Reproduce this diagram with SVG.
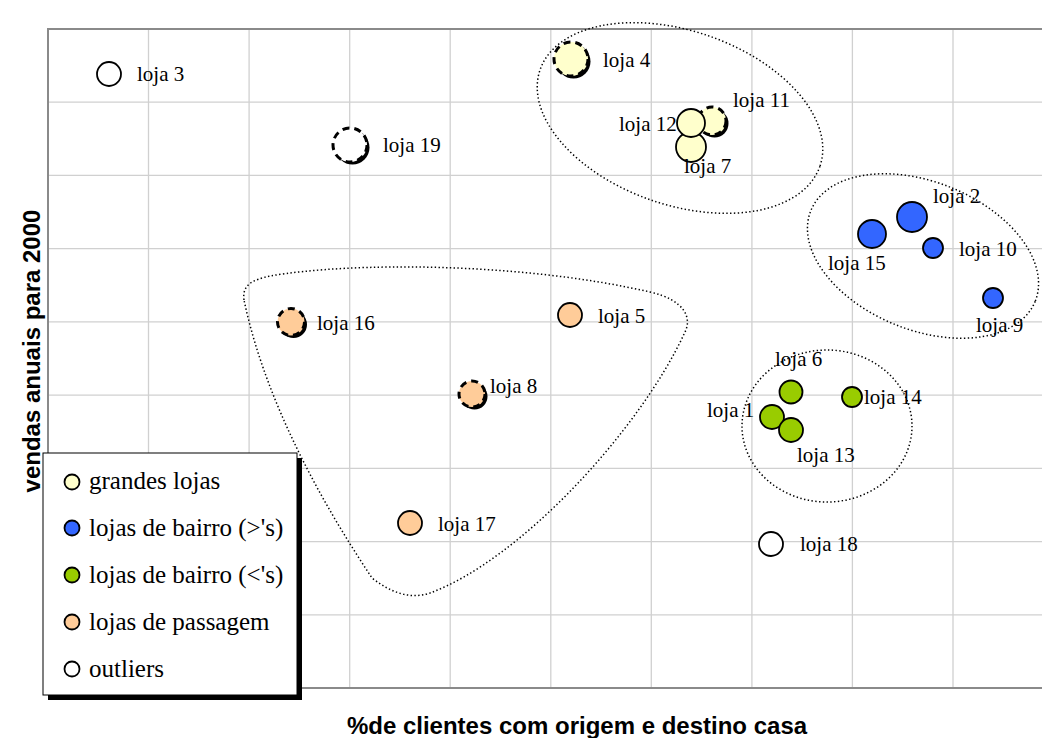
<svg xmlns="http://www.w3.org/2000/svg" width="1042" height="738" viewBox="0 0 1042 738">
  <style>
    .grid line { stroke: #d0d0d0; stroke-width: 1.3; }
    .frame { stroke: #8a8a8a; stroke-width: 2; fill: none; }
    .cluster { fill: none; stroke: #000; stroke-width: 1.5; stroke-dasharray: 1.4 2.4; }
    .pt { stroke: #000; stroke-width: 1.8; }
    .dash { stroke: #000; stroke-width: 3; stroke-dasharray: 7 5; }
    .shadow { fill: #000; }
    .big { fill: #ffffcc; }
    .nb-big { fill: #3366ff; }
    .nb-small { fill: #99cc00; }
    .pass { fill: #ffcc99; }
    .out { fill: #ffffff; }
    .lbl { font-family: "Liberation Serif", "Times New Roman", serif; font-size: 21px; fill: #000; }
    .leg { font-family: "Liberation Serif", "Times New Roman", serif; font-size: 25px; fill: #000; }
    .axis { font-family: "Liberation Sans", Arial, sans-serif; font-size: 24px; font-weight: bold; fill: #000; }
  </style>

  <rect width="1042" height="738" fill="#ffffff"/>

  <!-- plot grid -->
  <g class="grid">
    <line x1="148.5" y1="29" x2="148.5" y2="688"/>
    <line x1="249.1" y1="29" x2="249.1" y2="688"/>
    <line x1="349.7" y1="29" x2="349.7" y2="688"/>
    <line x1="450.2" y1="29" x2="450.2" y2="688"/>
    <line x1="550.8" y1="29" x2="550.8" y2="688"/>
    <line x1="651.3" y1="29" x2="651.3" y2="688"/>
    <line x1="751.9" y1="29" x2="751.9" y2="688"/>
    <line x1="852.4" y1="29" x2="852.4" y2="688"/>
    <line x1="953" y1="29" x2="953" y2="688"/>
    <line x1="48" y1="102.2" x2="1042" y2="102.2"/>
    <line x1="48" y1="175.4" x2="1042" y2="175.4"/>
    <line x1="48" y1="248.7" x2="1042" y2="248.7"/>
    <line x1="48" y1="321.9" x2="1042" y2="321.9"/>
    <line x1="48" y1="395.1" x2="1042" y2="395.1"/>
    <line x1="48" y1="468.3" x2="1042" y2="468.3"/>
    <line x1="48" y1="541.6" x2="1042" y2="541.6"/>
    <line x1="48" y1="614.8" x2="1042" y2="614.8"/>
  </g>
  <path class="frame" d="M1042,29 H48 V688 H1042"/>

  <!-- cluster outlines -->
  <g id="clusters">
    <ellipse class="cluster" cx="680" cy="118" rx="148" ry="87" transform="rotate(19 680 118)"/>
    <ellipse class="cluster" cx="923" cy="256" rx="121" ry="74" transform="rotate(22 923 256)"/>
    <ellipse class="cluster" cx="827" cy="426" rx="85" ry="76"/>
    <path class="cluster" d="M244,300 C242,285 252,280 270,276 C350,262 520,262 650,292 C685,300 692,318 685,332 C640,430 520,560 430,593 C410,600 390,592 372,578 C320,500 265,400 244,300 Z"/>
  </g>

  <!-- outliers -->
  <g id="loja-3">
    <circle class="pt out" cx="109" cy="74" r="12"/>
    <text class="lbl" x="137" y="81">loja 3</text>
  </g>
  <g id="loja-19">
    <circle class="shadow" cx="352.5" cy="147.5" r="17"/>
    <circle class="dash out" cx="350" cy="145" r="17"/>
    <text class="lbl" x="383" y="152">loja 19</text>
  </g>
  <g id="loja-18">
    <circle class="pt out" cx="771" cy="544" r="12"/>
    <text class="lbl" x="800" y="551">loja 18</text>
  </g>

  <!-- large stores -->
  <g id="loja-4">
    <circle class="shadow" cx="573.5" cy="61.5" r="17"/>
    <circle class="dash big" cx="571" cy="59" r="17"/>
    <text class="lbl" x="603" y="67">loja 4</text>
  </g>
  <g id="loja-7">
    <circle class="pt big" cx="691" cy="147" r="15"/>
    <text class="lbl" x="684" y="173">loja 7</text>
  </g>
  <g id="loja-11">
    <circle class="shadow" cx="714.5" cy="123.5" r="14"/>
    <circle class="dash big" cx="712" cy="121" r="14"/>
    <text class="lbl" x="733" y="107">loja 11</text>
  </g>
  <g id="loja-12">
    <circle class="pt big" cx="691" cy="123" r="14"/>
    <text class="lbl" x="619" y="131">loja 12</text>
  </g>

  <!-- neighbourhood stores, larger -->
  <g id="loja-2">
    <circle class="pt nb-big" cx="912" cy="217" r="15"/>
    <text class="lbl" x="933" y="203">loja 2</text>
  </g>
  <g id="loja-15">
    <circle class="pt nb-big" cx="872" cy="234" r="14"/>
    <text class="lbl" x="828" y="270">loja 15</text>
  </g>
  <g id="loja-10">
    <circle class="pt nb-big" cx="933" cy="248" r="10"/>
    <text class="lbl" x="959" y="256">loja 10</text>
  </g>
  <g id="loja-9">
    <circle class="pt nb-big" cx="993" cy="298" r="10"/>
    <text class="lbl" x="976" y="332">loja 9</text>
  </g>

  <!-- neighbourhood stores, smaller -->
  <g id="loja-6">
    <circle class="pt nb-small" cx="791" cy="392" r="11.5"/>
    <text class="lbl" x="775" y="366">loja 6</text>
  </g>
  <g id="loja-14">
    <circle class="pt nb-small" cx="852" cy="397" r="10"/>
    <text class="lbl" x="864" y="404">loja 14</text>
  </g>
  <g id="loja-1">
    <circle class="pt nb-small" cx="772" cy="417" r="12"/>
    <text class="lbl" x="707" y="417">loja 1</text>
  </g>
  <g id="loja-13">
    <circle class="pt nb-small" cx="791" cy="430" r="12"/>
    <text class="lbl" x="797" y="462">loja 13</text>
  </g>

  <!-- passing-trade stores -->
  <g id="loja-16">
    <circle class="shadow" cx="293.5" cy="324.5" r="13.5"/>
    <circle class="dash pass" cx="291" cy="322" r="13.5"/>
    <text class="lbl" x="317" y="330">loja 16</text>
  </g>
  <g id="loja-5">
    <circle class="pt pass" cx="570" cy="315" r="12"/>
    <text class="lbl" x="598" y="323">loja 5</text>
  </g>
  <g id="loja-8">
    <circle class="shadow" cx="474.5" cy="396.5" r="13"/>
    <circle class="dash pass" cx="472" cy="394" r="13"/>
    <text class="lbl" x="490" y="393">loja 8</text>
  </g>
  <g id="loja-17">
    <circle class="pt pass" cx="410" cy="523" r="12"/>
    <text class="lbl" x="438" y="531">loja 17</text>
  </g>

  <!-- legend -->
  <g id="legend">
    <rect x="48" y="458" width="254" height="242" fill="#000"/>
    <rect x="43" y="453" width="254" height="242" fill="#fff" stroke="#000" stroke-width="1"/>
    <circle class="pt big" cx="72" cy="482" r="7.5"/>
    <text class="leg" x="89" y="489">grandes lojas</text>
    <circle class="pt nb-big" cx="72" cy="528" r="7.5"/>
    <text class="leg" x="89" y="536">lojas de bairro (&gt;'s)</text>
    <circle class="pt nb-small" cx="72" cy="575" r="7.5"/>
    <text class="leg" x="89" y="583">lojas de bairro (&lt;'s)</text>
    <circle class="pt pass" cx="72" cy="622" r="7.5"/>
    <text class="leg" x="89" y="630">lojas de passagem</text>
    <circle class="pt out" cx="72" cy="669" r="7.5"/>
    <text class="leg" x="89" y="677">outliers</text>
  </g>

  <!-- axis titles -->
  <text class="axis" x="577" y="734" text-anchor="middle">%de clientes com origem e destino casa</text>
  <text class="axis" transform="translate(40 351) rotate(-90)" text-anchor="middle">vendas anuais para 2000</text>
</svg>
